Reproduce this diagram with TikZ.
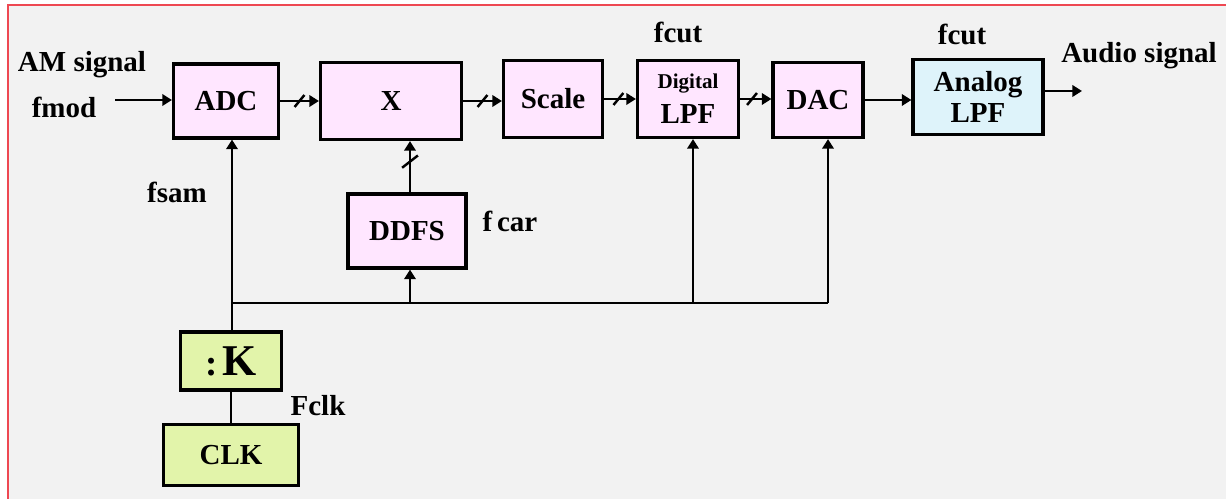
\documentclass[tikz,border=0pt]{standalone}
\usepackage{fontspec}
\setmainfont{Liberation Serif}
\usetikzlibrary{arrows.meta,decorations.markings}
\definecolor{bggray}{RGB}{242,242,242}
\definecolor{framered}{RGB}{238,72,82}
\definecolor{pinkbox}{RGB}{255,230,255}
\definecolor{bluebox}{RGB}{222,243,250}
\definecolor{greenbox}{RGB}{226,244,170}

\begin{document}
\begin{tikzpicture}[x=0.02cm, y=-0.02cm,
    >={Triangle[length=5.5pt,width=6.5pt]},
    wire/.style={line width=1.6pt},
    blk/.style={draw, line width=1.8pt, fill=pinkbox, inner sep=0pt, align=center,
      font=\bfseries\fontsize{16.5}{18}\selectfont},
    lab/.style={font=\bfseries\fontsize{16.5}{18}\selectfont},
    busmark/.style={postaction={decorate}, decoration={markings, mark=at position #1 with
      {\pgftransformresetnontranslations \draw[-,line width=1.4pt] (-2.8pt,-3.4pt) -- (2.8pt,3.4pt);}}},
    vbusmark/.style={postaction={decorate}, decoration={markings, mark=at position #1 with
      {\pgftransformresetnontranslations \draw[-,line width=1.4pt] (-4.5pt,-3.5pt) -- (4.5pt,3.5pt);}}}]
  \useasboundingbox (0,0) rectangle (1226,499);
  \fill[bggray] (8,5) rectangle (1226,499);
  \draw[framered, line width=1.2pt] (1226,5) -- (8,5) -- (8,499);

  \node[blk, minimum width=2.1cm, minimum height=1.48cm] (adc) at (226,101) {ADC};
  \node[blk, minimum width=2.82cm, minimum height=1.54cm] (mul) at (391,101) {X};
  \node[blk, minimum width=1.98cm, minimum height=1.54cm] (scale) at (553,99) {Scale};
  \node[blk, minimum width=2.02cm, minimum height=1.54cm] (dlpf) at (688,99)
    {{\fontsize{12}{14}\selectfont Digital}\\[2pt]LPF};
  \node[blk, minimum width=1.8cm, minimum height=1.5cm] (dac) at (818,100) {DAC};
  \node[blk, fill=bluebox, minimum width=2.6cm, minimum height=1.5cm] (alpf) at (978,97) {Analog\\LPF};
  \node[blk, minimum width=2.36cm, minimum height=1.48cm] (ddfs) at (407,231) {DDFS};
  \node[blk, fill=greenbox, minimum width=2.02cm, minimum height=1.16cm] (divk) at (231,361)
    {{\fontsize{21}{24}\selectfont :}\,{\fontsize{25}{28}\selectfont K}};
  \node[blk, fill=greenbox, minimum width=2.7cm, minimum height=1.22cm] (clk) at (231,455) {CLK};

  \node[lab] (am) at (82,65) {AM signal};
  \node[lab] (fmod) at (64,107) {fmod};
  \node[lab] (fsam) at (177,192) {fsam};
  \node[lab] (fcar) at (510,221) {f\,car};
  \node[lab] (fcut1) at (678,32) {fcut};
  \node[lab] (fcut2) at (962,34) {fcut};
  \node[lab] (audio) at (1139,56) {Audio signal};
  \node[lab] (fclk) at (318,406) {Fclk};

  \coordinate (src) at (115,100);
  \coordinate (snk) at (1082,91);
  \coordinate (bus) at (232,303);
  \coordinate (tapd) at (410,303);
  \coordinate (tapf) at (693,303);
  \coordinate (tapc) at (828,303);

  \draw[wire,->] (src) -- (src -| adc.west);
  \draw[wire,->,busmark=0.5] (adc) -- (adc -| mul.west);
  \draw[wire,->,busmark=0.5] (mul) -- (mul -| scale.west);
  \draw[wire,->,busmark=0.45] (scale) -- (scale -| dlpf.west);
  \draw[wire,->,busmark=0.38] (dlpf) -- (dlpf -| dac.west);
  \draw[wire,->] (dac) -- (dac -| alpf.west);
  \draw[wire,->] (alpf.east |- snk) -- (snk);
  \draw[wire] (divk) -- (clk);
  \draw[wire,->] (bus |- divk.north) -- (bus |- adc.south);
  \draw[wire] (bus) -- (tapc);
  \draw[wire,->] (tapd) -- (tapd |- ddfs.south);
  \draw[wire,->] (tapf) -- (tapf |- dlpf.south);
  \draw[wire,->] (tapc) -- (tapc |- dac.south);
  \draw[wire,->,vbusmark=0.6] (tapd |- ddfs.north) -- (tapd |- mul.south);
\end{tikzpicture}
\end{document}
